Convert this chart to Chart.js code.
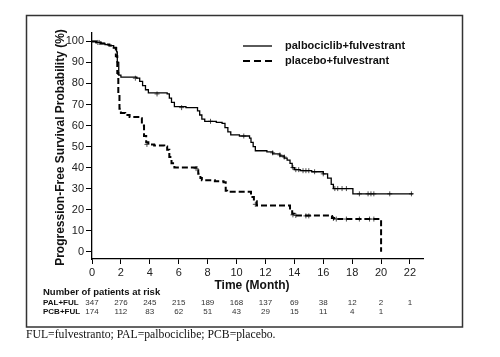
<!DOCTYPE html>
<html>
<head>
<meta charset="utf-8">
<script src="https://cdn.jsdelivr.net/npm/chart.js@4.4.1/dist/chart.umd.min.js"></script>
<style>
html,body{margin:0;padding:0;background:#fff;}
#wrap{position:relative;width:500px;height:357px;}
canvas{display:block;}
</style>
</head>
<body>
<div id="wrap"><canvas id="c" width="500" height="357"></canvas></div>
<script>
// ---- Data ----
const xTicks = [0,2,4,6,8,10,12,14,16,18,20,22];
const yTicks = [0,10,20,30,40,50,60,70,80,90,100];

// palbociclib+fulvestrant (Kaplan-Meier steps: time, survival after step)
const palTime = [0,0.3,0.6,0.9,1.2,1.5,1.7,1.75,1.85,2.0,3.1,3.3,3.5,3.7,3.9,5.2,5.35,5.5,5.7,6.5,7.3,7.45,7.6,7.8,8.6,9.0,9.2,9.4,9.6,10.2,10.9,11.0,11.15,11.3,12.1,12.5,13.0,13.3,13.5,13.7,13.85,14.0,14.4,15.2,16.0,16.3,16.55,16.7,18.05,22.2];
const palSurv = [100,99.5,99,98.5,98,97,95,90,84,83,82.5,81,79,77,75.5,75,73,71,69,68.5,67,65,63,62,61.5,61,59,57,55.5,55,54,52,50,48,47.5,46.5,45.5,44.5,43.5,42,40,39,38.5,38,37,35,32,30,27.5,27.5];
const palCensorT = [0.5,3.0,4.5,6.2,8.2,10.5,12.5,13.0,13.3,13.9,14.1,14.3,14.6,14.8,15.0,15.4,16.0,16.8,17.0,17.3,17.6,18.5,19.1,19.3,19.5,20.6,22.1];
const palCensorS = [99.5,82.5,75,68.5,62,55,47,46,45,40,39,39,38.5,38.5,38.5,38,37,30,30,30,30,27.5,27.5,27.5,27.5,27.5,27.5];

// placebo+fulvestrant
const pcbTime = [0,0.3,0.6,0.9,1.2,1.5,1.65,1.75,1.82,1.9,2.0,2.3,2.6,3.3,3.45,3.6,3.75,3.9,4.3,5.0,5.2,5.35,5.5,5.7,7.25,7.35,7.5,7.6,8.5,9.1,9.25,9.35,10.9,11.0,11.2,11.4,13.5,13.7,13.85,14.0,16.5,16.6,16.75,20.0,20.0];
const pcbSurv = [100,99.5,99,98.5,98,97,93,85,75,68,66,65,64,63.5,60,55,52,51,50.5,50,48.5,45,42,40,39.5,37,35,34,33.5,33,29,28.5,28.5,26,24,22,22,20,18,17.2,17,16,15.5,15.5,0];
const pcbCensorT = [0.4,3.8,7.2,11.3,13.9,14.1,14.8,15.0,16.7,16.9,17.6,18.5,19.2,19.5];
const pcbCensorS = [99.5,51,39.5,22.5,17.5,17.2,17,17,15.8,15.5,15.5,15.5,15.5,15.5];

// patients at risk
const riskTimes = [0,2,4,6,8,10,12,14,16,18,20,22];
const palRisk = [347,276,245,215,189,168,137,69,38,12,2,1];
const pcbRisk = [174,112,83,62,51,43,29,15,11,4,1,null];

const seriesNames = ['palbociclib+fulvestrant','placebo+fulvestrant'];
const riskLabels = ['PAL+FUL','PCB+FUL'];

const zip = (t,s) => t.map((v,i)=>({x:v,y:s[i]}));

const overlay = {
  id:'overlay',
  afterDraw(chart){
    const ctx = chart.ctx;
    const xs = chart.scales.x;
    ctx.save();
    // outer frame
    ctx.strokeStyle = '#333';
    ctx.lineWidth = 1.5;
    ctx.strokeRect(26.5,15.5,436,311.5);
    // y title
    ctx.fillStyle = '#111';
    ctx.font = 'bold 12px "Liberation Sans", Arial, sans-serif';
    ctx.textAlign = 'center';
    ctx.textBaseline = 'middle';
    ctx.save();
    ctx.translate(61,147.5);
    ctx.rotate(-Math.PI/2);
    ctx.fillText('Progression-Free Survival Probability (%)',0,0);
    ctx.restore();
    // x title
    ctx.fillText('Time (Month)',252,286);
    // legend
    ctx.lineWidth = 1.3;
    ctx.strokeStyle = '#000';
    ctx.beginPath(); ctx.moveTo(243,46); ctx.lineTo(272,46); ctx.stroke();
    ctx.lineWidth = 2;
    ctx.setLineDash([7,4]);
    ctx.beginPath(); ctx.moveTo(243,61); ctx.lineTo(272,61); ctx.stroke();
    ctx.setLineDash([]);
    ctx.textAlign = 'left';
    ctx.font = 'bold 11px "Liberation Sans", Arial, sans-serif';
    ctx.fillText(seriesNames[0],285,46);
    ctx.fillText(seriesNames[1],285,61);
    // risk table
    ctx.font = 'bold 9.5px "Liberation Sans", Arial, sans-serif';
    ctx.fillText('Number of patients at risk',43,292);
    ctx.font = 'bold 8px "Liberation Sans", Arial, sans-serif';
    ctx.fillText(riskLabels[0],43,303);
    ctx.fillText(riskLabels[1],43,311.5);
    ctx.font = '8px "Liberation Sans", Arial, sans-serif';
    ctx.fillStyle = '#333';
    ctx.textAlign = 'center';
    riskTimes.forEach((t,i)=>{
      const px = xs.getPixelForValue(t);
      if(palRisk[i]!=null) ctx.fillText(String(palRisk[i]),px,303);
      if(pcbRisk[i]!=null) ctx.fillText(String(pcbRisk[i]),px,311.5);
    });
    // caption
    ctx.fillStyle = '#111';
    ctx.textAlign = 'left';
    ctx.font = '11.7px "Liberation Serif", "Times New Roman", serif';
    ctx.fillText('FUL=fulvestranto; PAL=palbociclibe; PCB=placebo.',26,335);
    ctx.restore();
  }
};

new Chart(document.getElementById('c'), {
  type:'line',
  data:{
    datasets:[
      {label:seriesNames[0], data:zip(palTime,palSurv), stepped:'before', borderColor:'#000', borderWidth:1.3, pointRadius:0, fill:false},
      {label:seriesNames[1], data:zip(pcbTime,pcbSurv), stepped:'before', borderColor:'#000', borderWidth:2, borderDash:[6,3], pointRadius:0, fill:false},
      {label:'pal censor', data:zip(palCensorT,palCensorS), showLine:false, pointStyle:'cross', pointRadius:2.5, borderColor:'#222', borderWidth:0.8},
      {label:'pcb censor', data:zip(pcbCensorT,pcbCensorS), showLine:false, pointStyle:'cross', pointRadius:2.5, borderColor:'#222', borderWidth:0.8}
    ]
  },
  options:{
    responsive:false,
    devicePixelRatio:1,
    animation:false,
    layout:{padding:{left:0,top:33,right:77,bottom:0}},
    plugins:{legend:{display:false},tooltip:{enabled:false}},
    scales:{
      x:{
        type:'linear', min:0, max:22.9,
        afterBuildTicks(s){ s.ticks = xTicks.map(v=>({value:v})); },
        afterFit(s){ s.height = 98; },
        grid:{display:true, drawOnChartArea:false, drawTicks:true, tickLength:5, color:'#000', lineWidth:1},
        border:{display:true, color:'#000', width:1.3},
        ticks:{color:'#222', padding:2, maxRotation:0, font:{family:'"Liberation Sans", Arial, sans-serif', size:11}}
      },
      y:{
        type:'linear', min:-3.5, max:104,
        afterBuildTicks(s){ s.ticks = yTicks.map(v=>({value:v})); },
        afterFit(s){ s.width = 92; },
        grid:{display:true, drawOnChartArea:false, drawTicks:true, tickLength:6, color:'#000', lineWidth:1},
        border:{display:true, color:'#000', width:1.3},
        ticks:{color:'#222', padding:2, font:{family:'"Liberation Sans", Arial, sans-serif', size:11}}
      }
    }
  },
  plugins:[overlay]
});
</script>
</body>
</html>
